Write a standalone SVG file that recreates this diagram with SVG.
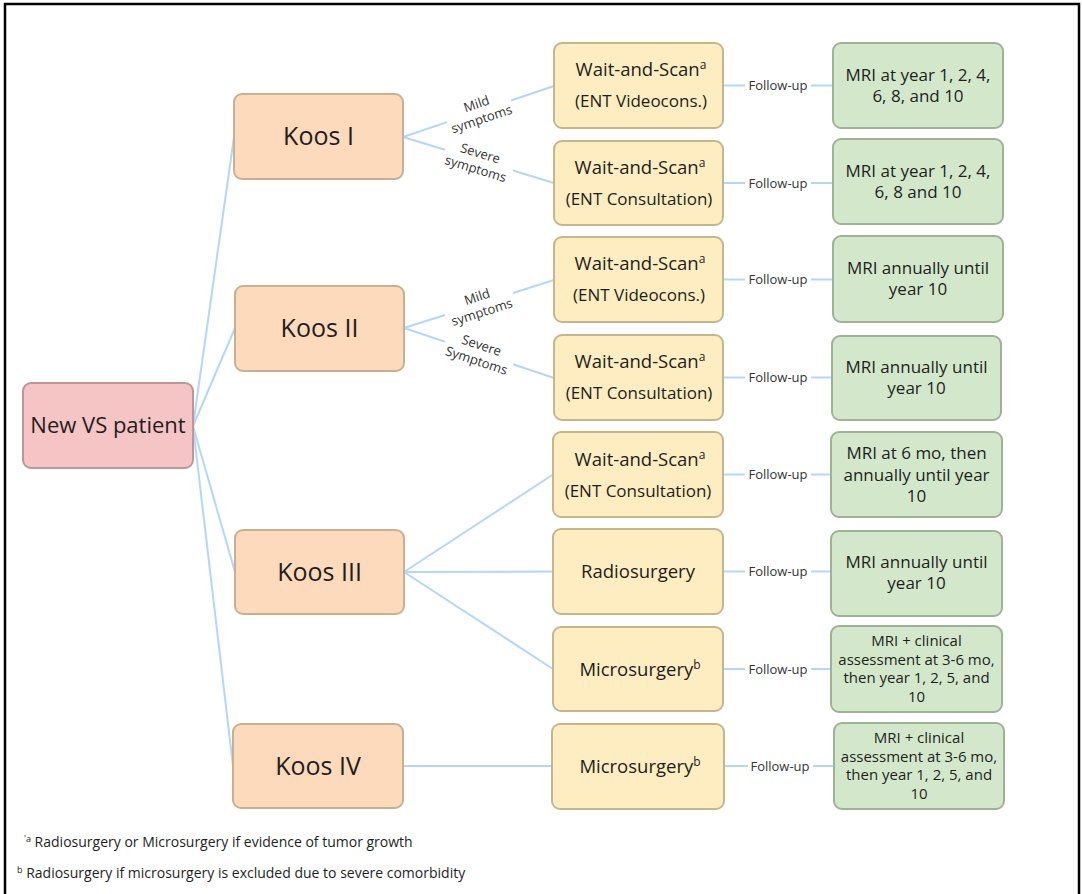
<svg xmlns="http://www.w3.org/2000/svg" width="1082" height="894" viewBox="0 0 1082 894">
<style>
  text { font-family: "Open Sans", "Noto Sans", "Liberation Sans", sans-serif; fill: #1e1e1e; }
  .root { fill: #f5c4c5; stroke: #bb9797; stroke-width: 2; }
  .koos { fill: #fcdabb; stroke: #c7b190; stroke-width: 2; }
  .tx { fill: #fdedc0; stroke: #c6b68c; stroke-width: 2; }
  .fu { fill: #d3e8cb; stroke: #a0b295; stroke-width: 2; }
  .conn line { stroke: #b4d6fb; stroke-width: 2; fill: none; }
  .lbl { font-size: 13px; fill: #333; text-anchor: middle; }
  .kt { font-size: 25px; text-anchor: middle; }
  .t1 { font-size: 18.5px; text-anchor: middle; }
  .t2 { font-size: 17px; text-anchor: middle; }
  .g { font-size: 17px; text-anchor: middle; }
  .gs { font-size: 15px; text-anchor: middle; }
  .fn { font-size: 14px; }
</style>
<rect x="5" y="4" width="1074" height="900" fill="#ffffff" stroke="#000000" stroke-width="2.5"/>

<g id="connectors" class="conn">
  <line x1="193" y1="426" x2="234" y2="137"/>
  <line x1="193" y1="426" x2="235" y2="328"/>
  <line x1="193" y1="426" x2="235" y2="572"/>
  <line x1="193" y1="426" x2="233" y2="766"/>
  <line x1="403" y1="137" x2="447" y2="122.1"/>
  <line x1="511" y1="100.5" x2="554" y2="86"/>
  <line x1="403" y1="137" x2="445" y2="149.8"/>
  <line x1="513" y1="170.5" x2="554" y2="183"/>
  <line x1="404" y1="328" x2="445" y2="315"/>
  <line x1="513" y1="293" x2="554" y2="280"/>
  <line x1="404" y1="328" x2="445" y2="341.7"/>
  <line x1="513" y1="364.3" x2="554" y2="378"/>
  <line x1="404" y1="572" x2="553" y2="474.5"/>
  <line x1="404" y1="572" x2="553" y2="571.5"/>
  <line x1="404" y1="572" x2="553" y2="669"/>
  <line x1="403" y1="766" x2="552" y2="766"/>
  <line x1="723" y1="85.5" x2="745" y2="85.5"/><line x1="811" y1="85.5" x2="833" y2="85.5"/>
  <line x1="723" y1="183" x2="745" y2="183"/><line x1="811" y1="183" x2="833" y2="183"/>
  <line x1="723" y1="279.5" x2="745" y2="279.5"/><line x1="811" y1="279.5" x2="833" y2="279.5"/>
  <line x1="723" y1="377.5" x2="745" y2="377.5"/><line x1="811" y1="377.5" x2="832" y2="377.5"/>
  <line x1="723" y1="474.5" x2="745" y2="474.5"/><line x1="811" y1="474.5" x2="831" y2="474.5"/>
  <line x1="723" y1="571.5" x2="745" y2="571.5"/><line x1="811" y1="571.5" x2="831" y2="571.5"/>
  <line x1="723" y1="669" x2="745" y2="669"/><line x1="811" y1="669" x2="831" y2="669"/>
  <line x1="724" y1="766" x2="748" y2="766"/><line x1="813" y1="766" x2="834" y2="766"/>
  <text class="lbl" transform="translate(479,111.5) rotate(-18.7)"><tspan x="0" y="-3.5">Mild</tspan><tspan x="0" y="12.5">symptoms</tspan></text>
  <text class="lbl" transform="translate(478,161) rotate(17)"><tspan x="0" y="-3.5">Severe</tspan><tspan x="0" y="12.5">symptoms</tspan></text>
  <text class="lbl" transform="translate(479.5,304.5) rotate(-17.7)"><tspan x="0" y="-3.5">Mild</tspan><tspan x="0" y="12.5">symptoms</tspan></text>
  <text class="lbl" transform="translate(479,353) rotate(18.4)"><tspan x="0" y="-3.5">Severe</tspan><tspan x="0" y="12.5">Symptoms</tspan></text>
  <text class="lbl" x="778" y="90">Follow-up</text>
  <text class="lbl" x="778" y="187.5">Follow-up</text>
  <text class="lbl" x="778" y="284">Follow-up</text>
  <text class="lbl" x="778" y="382">Follow-up</text>
  <text class="lbl" x="778" y="479">Follow-up</text>
  <text class="lbl" x="778" y="576">Follow-up</text>
  <text class="lbl" x="778" y="673.5">Follow-up</text>
  <text class="lbl" x="780" y="770.5">Follow-up</text>
</g>

<g id="new-vs-patient"><rect class="root" x="23" y="383" width="170" height="85" rx="8"/><text x="108" y="433" font-size="22" text-anchor="middle">New VS patient</text></g>

<g id="koos-1"><rect class="koos" x="234" y="94" width="169" height="85" rx="8"/><text class="kt" x="318.5" y="145">Koos I</text></g>
<g id="koos-2"><rect class="koos" x="235" y="286" width="169" height="85" rx="8"/><text class="kt" x="319.5" y="337">Koos II</text></g>
<g id="koos-3"><rect class="koos" x="235" y="530" width="169" height="84" rx="8"/><text class="kt" x="319.5" y="581">Koos III</text></g>
<g id="koos-4"><rect class="koos" x="233" y="724" width="170" height="84" rx="8"/><text class="kt" x="318" y="775">Koos IV</text></g>

<g id="ws-1"><rect class="tx" x="554" y="43" width="169" height="85" rx="8"/><text class="t1" x="641" y="76">Wait-and-Scan<tspan dy="-7" font-size="12">a</tspan></text><text class="t2" x="641" y="107">(ENT Videocons.)</text></g>
<g id="ws-2"><rect class="tx" x="554" y="141" width="169" height="84" rx="8"/><text class="t1" x="640" y="174">Wait-and-Scan<tspan dy="-7" font-size="12">a</tspan></text><text class="t2" x="639" y="205">(ENT Consultation)</text></g>
<g id="ws-3"><rect class="tx" x="554" y="237" width="169" height="85" rx="8"/><text class="t1" x="640" y="270">Wait-and-Scan<tspan dy="-7" font-size="12">a</tspan></text><text class="t2" x="639" y="301">(ENT Videocons.)</text></g>
<g id="ws-4"><rect class="tx" x="554" y="335" width="169" height="85" rx="8"/><text class="t1" x="640" y="368">Wait-and-Scan<tspan dy="-7" font-size="12">a</tspan></text><text class="t2" x="639" y="399">(ENT Consultation)</text></g>
<g id="ws-5"><rect class="tx" x="553" y="432" width="170" height="85" rx="8"/><text class="t1" x="640" y="466">Wait-and-Scan<tspan dy="-7" font-size="12">a</tspan></text><text class="t2" x="638" y="497">(ENT Consultation)</text></g>
<g id="radiosurgery"><rect class="tx" x="553" y="529" width="170" height="85" rx="8"/><text class="t1" x="638" y="578" font-size="19">Radiosurgery</text></g>
<g id="microsurgery-3"><rect class="tx" x="553" y="627" width="170" height="84" rx="8"/><text class="t1" x="640" y="676" font-size="19">Microsurgery<tspan dy="-7" font-size="12">b</tspan></text></g>
<g id="microsurgery-4"><rect class="tx" x="552" y="724" width="172" height="85" rx="8"/><text class="t1" x="640" y="773" font-size="19">Microsurgery<tspan dy="-7" font-size="12">b</tspan></text></g>

<g id="fu-1"><rect class="fu" x="833" y="43" width="170" height="85" rx="8"/><text class="g"><tspan x="918" y="81">MRI at year 1, 2, 4,</tspan><tspan x="918" y="102">6, 8, and 10</tspan></text></g>
<g id="fu-2"><rect class="fu" x="833" y="139" width="170" height="85" rx="8"/><text class="g"><tspan x="918" y="177">MRI at year 1, 2, 4,</tspan><tspan x="918" y="198">6, 8 and 10</tspan></text></g>
<g id="fu-3"><rect class="fu" x="833" y="236" width="170" height="86" rx="8"/><text class="g"><tspan x="918" y="274">MRI annually until</tspan><tspan x="918" y="295">year 10</tspan></text></g>
<g id="fu-4"><rect class="fu" x="832" y="336" width="169" height="84" rx="8"/><text class="g"><tspan x="916.5" y="373">MRI annually until</tspan><tspan x="916.5" y="394">year 10</tspan></text></g>
<g id="fu-5"><rect class="fu" x="831" y="432" width="171" height="85" rx="8"/><text class="g"><tspan x="916.5" y="459">MRI at 6 mo, then</tspan><tspan x="916.5" y="480.5">annually until year</tspan><tspan x="916.5" y="502">10</tspan></text></g>
<g id="fu-6"><rect class="fu" x="831" y="531" width="171" height="85" rx="8"/><text class="g"><tspan x="916.5" y="568">MRI annually until</tspan><tspan x="916.5" y="589">year 10</tspan></text></g>
<g id="fu-7"><rect class="fu" x="831" y="626" width="171" height="86" rx="8"/><text class="gs"><tspan x="916.5" y="646">MRI + clinical</tspan><tspan x="916.5" y="664.7">assessment at 3-6 mo,</tspan><tspan x="916.5" y="683.4">then year 1, 2, 5, and</tspan><tspan x="916.5" y="702">10</tspan></text></g>
<g id="fu-8"><rect class="fu" x="834" y="723" width="170" height="86" rx="8"/><text class="gs"><tspan x="919" y="743">MRI + clinical</tspan><tspan x="919" y="761.7">assessment at 3-6 mo,</tspan><tspan x="919" y="780.4">then year 1, 2, 5, and</tspan><tspan x="919" y="799">10</tspan></text></g>

<g id="footnotes">
  <text class="fn" x="24" y="847"><tspan font-size="9" dy="-5">'a</tspan><tspan dy="5"> Radiosurgery or Microsurgery if evidence of tumor growth</tspan></text>
  <text class="fn" x="17" y="878"><tspan font-size="9" dy="-5">b</tspan><tspan dy="5"> Radiosurgery if microsurgery is excluded due to severe comorbidity</tspan></text>
</g>
</svg>
